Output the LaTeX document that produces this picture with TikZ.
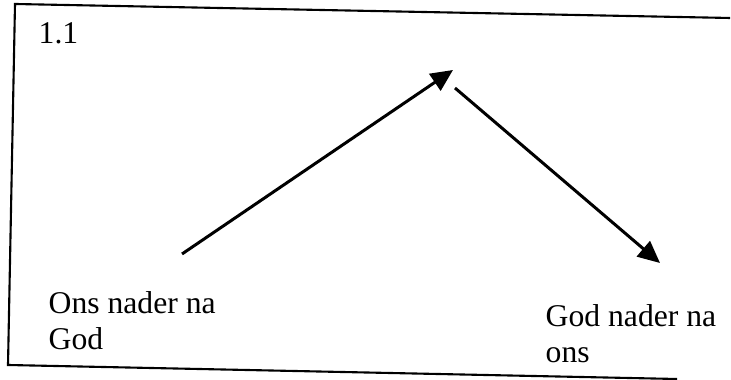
\documentclass[tikz,border=0pt]{standalone}
\usepackage{fontspec}
\setmainfont{Liberation Serif}
\usetikzlibrary{arrows.meta}

\begin{document}
\begin{tikzpicture}[x=0.01cm, y=-0.01cm,
  words/.style={font=\fontsize{9}{10.1}\selectfont, inner sep=0pt, align=left},
  move/.style={line width=0.85pt, -{Triangle[length=0.22cm, width=0.2cm]}}]
  \useasboundingbox (0,0) rectangle (731,380);
  \coordinate (TR) at (730,18);
  \coordinate (TL) at (15,4);
  \coordinate (BL) at (8,365);
  \coordinate (BR) at (677,379);
  \coordinate (S) at (182,254);
  \coordinate (P) at (453,70);
  \coordinate (Q) at (455,88);
  \coordinate (E) at (660,263);

  \draw[line width=0.6pt] (TR) -- (TL) -- (BL) -- (BR);
  \draw[move] (S) -- (P);
  \draw[move] (Q) -- (E);

  \node[words, anchor=base west] (num) at (38,44) {1.1};
  \node[words, anchor=north west] (us) at (48,291) {Ons nader na\\God};
  \node[words, anchor=north west] (god) at (545,304) {God nader na\\ons};
\end{tikzpicture}
\end{document}
